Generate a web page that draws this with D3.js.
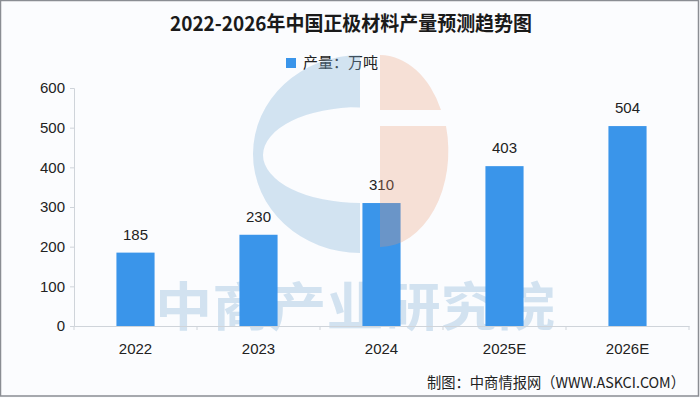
<!DOCTYPE html>
<html>
<head>
<meta charset="utf-8">
<script src="https://cdn.jsdelivr.net/npm/d3@7"></script>
<style>
  html, body { margin: 0; padding: 0; background: #fbfcfe; }
  svg { display: block; }
  .tick text, .value { font-family: "Liberation Sans Narrow", "Liberation Sans", sans-serif; fill: #222; }
  .cjk { font-family: "Noto Sans CJK SC", sans-serif; }
</style>
</head>
<body>
<svg class="chart"></svg>
<script>
const years = ["2022", "2023", "2024", "2025E", "2026E"];
const output = [185, 230, 310, 403, 504];
const yTicks = [0, 100, 200, 300, 400, 500, 600];

const title = "2022-2026年中国正极材料产量预测趋势图";
const legendLabel = "产量：万吨";
const source = "制图：中商情报网（WWW.ASKCI.COM）";
const watermark = "中商产业研究院";

const width = 700, height = 398;
const margin = {top: 88, right: 11, bottom: 72, left: 74};
const barColor = "#3a95ea";

const svg = d3.select(".chart")
    .attr('width', width)
    .attr('height', height);

svg.append('rect')
    .attr('width', width).attr('height', height)
    .style('fill', '#fbfcfe');

const x = d3.scaleBand()
    .domain(years)
    .range([margin.left, width - margin.right])
    .paddingInner(0.69)
    .paddingOuter(0.345);

const y = d3.scaleLinear()
    .domain([0, 600])
    .range([height - margin.bottom, margin.top]);

// watermark text, sits behind the bars
svg.append('text')
    .attr('class', 'cjk')
    .attr('x', 155)
    .attr('y', 326)
    .attr('textLength', 400)
    .attr('lengthAdjust', 'spacingAndGlyphs')
    .style('font-size', '52px')
    .style('font-weight', 'bold')
    .style('fill', '#d2e2f0')
    .text(watermark);

// title
svg.append('text')
    .attr('class', 'cjk')
    .attr('x', 170)
    .attr('y', 31)
    .attr('textLength', 362)
    .attr('lengthAdjust', 'spacingAndGlyphs')
    .style('font-size', '20px')
    .style('font-weight', 'bold')
    .style('fill', '#1a1a1a')
    .text(title);

// legend
svg.append('rect')
    .attr('x', 286).attr('y', 58)
    .attr('width', 10).attr('height', 10)
    .style('fill', barColor);

svg.append('text')
    .attr('class', 'cjk')
    .attr('x', 303)
    .attr('y', 68)
    .style('font-size', '15px')
    .style('fill', '#222')
    .text(legendLabel);

// y axis
const yAxis = svg.append('g')
    .attr('class', 'axis')
    .attr('transform', `translate(${margin.left},0)`)
    .call(d3.axisLeft(y).tickValues(yTicks).tickSize(4).tickPadding(5));
yAxis.selectAll('.tick text').style('font-size', '15px');

// x axis
const xAxis = svg.append('g')
    .attr('class', 'axis')
    .attr('transform', `translate(0,${y(0)})`)
    .call(d3.axisBottom(x).tickSize(0).tickPadding(17));
xAxis.selectAll('.tick text').style('font-size', '15px');

svg.selectAll('.axis .domain').style('stroke', '#cfd4da');
svg.selectAll('.axis .tick line').style('stroke', '#cfd4da');

// category boundary ticks on the x axis
const step = x.step();
svg.selectAll('.xsep')
    .data(d3.range(years.length + 1))
    .enter().append('line')
    .attr('class', 'xsep')
    .attr('x1', (d) => margin.left + d * step)
    .attr('x2', (d) => margin.left + d * step)
    .attr('y1', y(0))
    .attr('y2', y(0) + 4)
    .style('stroke', '#cfd4da');

// bars
svg.selectAll('.bar')
    .data(output)
    .enter().append('rect')
    .attr('class', 'bar')
    .attr('x', (d, i) => x(years[i]))
    .attr('y', (d) => y(d))
    .attr('width', x.bandwidth())
    .attr('height', (d) => y(0) - y(d))
    .style('fill', barColor);

svg.selectAll('.value')
    .data(output)
    .enter().append('text')
    .attr('class', 'value')
    .attr('x', (d, i) => x(years[i]) + x.bandwidth() / 2)
    .attr('y', (d) => y(d) - 13)
    .attr('text-anchor', 'middle')
    .style('font-size', '15px')
    .text((d) => d);

// logo watermark over the plot
const logo = svg.append('g');
logo.append('path')
    .attr('d', 'M360,55 A107,99 0 0 0 360,253 Z M360,107 A97,48 0 0 0 360,203 Z')
    .attr('fill-rule', 'evenodd')
    .style('fill', '#7fb0d8')
    .style('opacity', 0.33);
logo.append('path')
    .attr('d', 'M380,55 A68,96 0 0 1 441,110 L380,110 Z M380,126 L446,126 A68,96 0 0 1 380,247 Z')
    .style('fill', '#e8966f')
    .style('opacity', 0.28);

// source note
svg.append('text')
    .attr('class', 'cjk')
    .attr('x', 685)
    .attr('y', 388)
    .attr('text-anchor', 'end')
    .attr('textLength', 258)
    .attr('lengthAdjust', 'spacingAndGlyphs')
    .style('font-size', '15px')
    .style('fill', '#222')
    .text(source);

// frame
svg.append('rect')
    .attr('x', 0.5).attr('y', 0.5)
    .attr('width', width - 2).attr('height', height - 2.5)
    .style('fill', 'none')
    .style('stroke', '#8a8d93')
    .style('stroke-width', 1.5);
</script>
</body>
</html>
